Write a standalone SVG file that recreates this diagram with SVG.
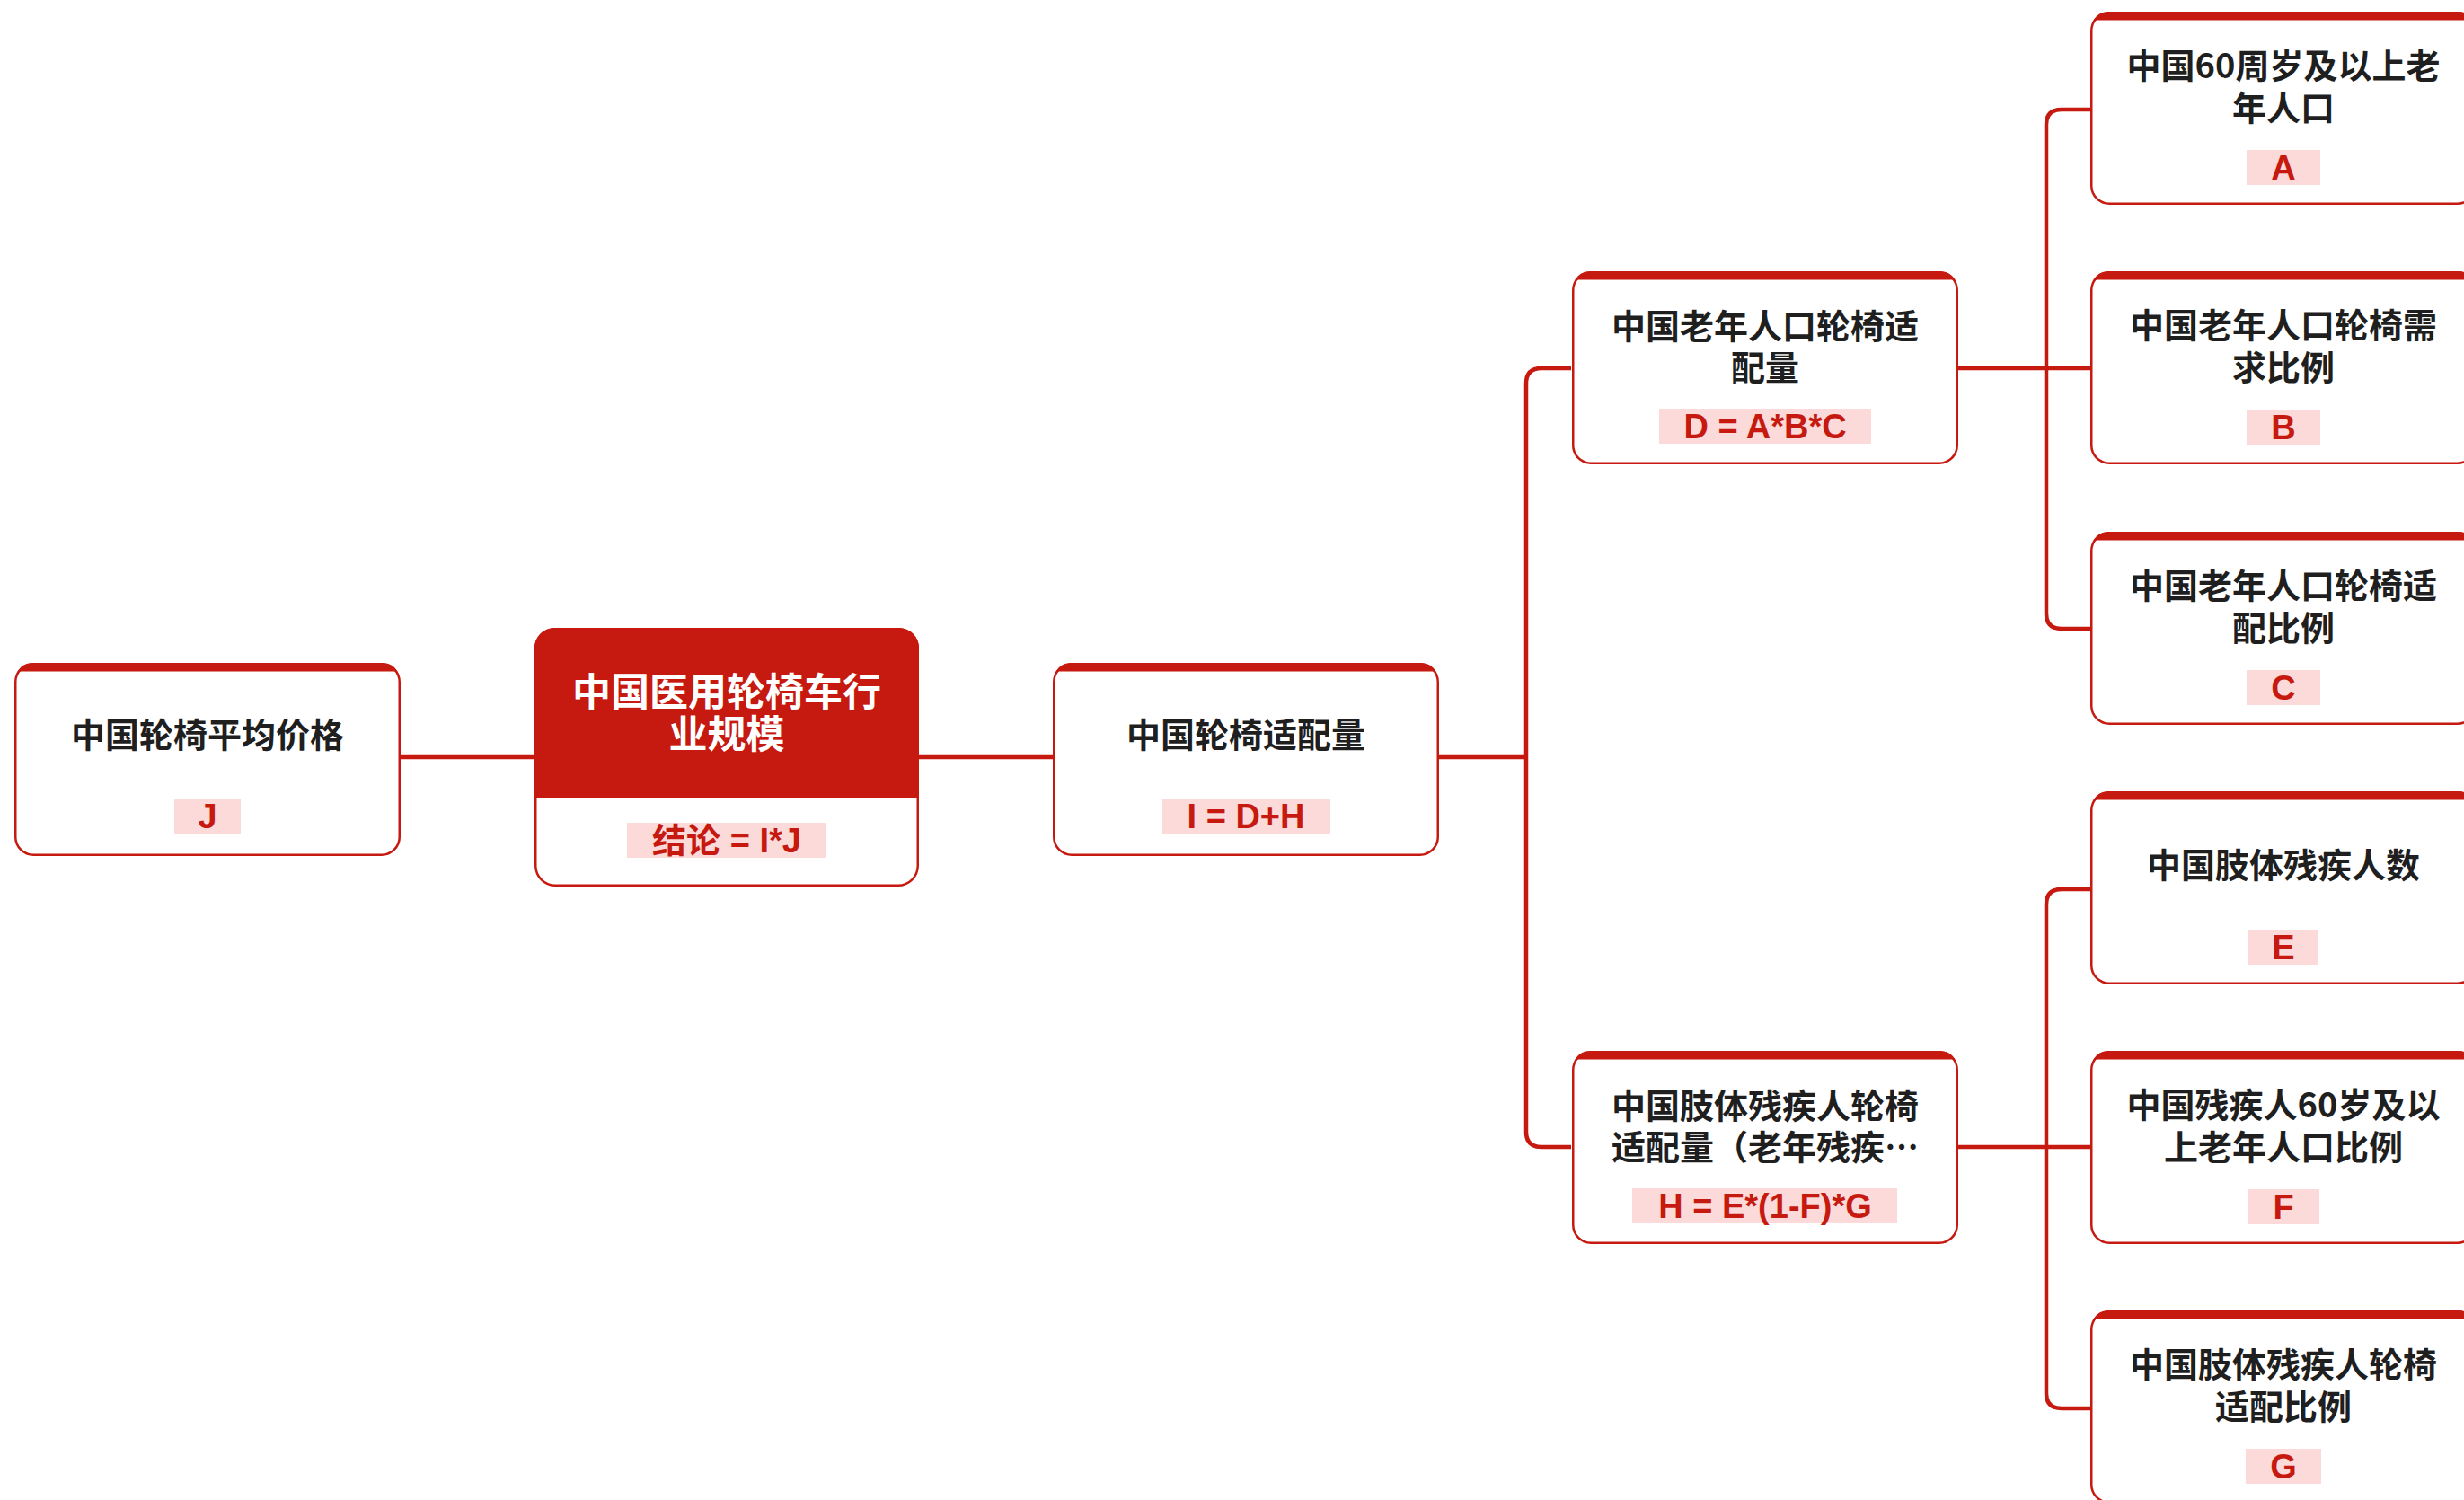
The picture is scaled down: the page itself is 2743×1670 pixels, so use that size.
<svg xmlns="http://www.w3.org/2000/svg" xmlns:xlink="http://www.w3.org/1999/xlink" width="2743" height="1670" viewBox="0 0 2743 1670">
<style>
.conn{fill:none;stroke:#C6190F;stroke-width:4.5}
.box{fill:#ffffff;stroke:#C6190F;stroke-width:2.5}
.band{fill:#C6190F}
.title{font-family:"Noto Sans CJK SC","Noto Sans",sans-serif;font-weight:bold;font-size:38px;fill:#1f1f1f;text-anchor:middle;dominant-baseline:central}
.rtitle{font-family:"Noto Sans CJK SC","Noto Sans",sans-serif;font-weight:bold;font-size:43px;fill:#ffffff;text-anchor:middle;dominant-baseline:central}
.pill{fill:#FCDADA}
.lbl{font-family:"Liberation Sans","Noto Sans CJK SC",sans-serif;font-weight:bold;font-size:38px;fill:#C6190F;text-anchor:middle;dominant-baseline:central}
</style>
<defs>
<g id="card">
<rect class="box" x="1.25" y="1.25" width="427.5" height="212.5" rx="20" ry="20"/>
<path class="band" d="M3.3 9.5 A20 20 0 0 1 20 0 H410 A20 20 0 0 1 426.7 9.5 Z"/>
</g>
</defs>
<rect width="2743" height="1670" fill="#ffffff"/>
<g id="connectors">
<path class="conn" d="M446 843 H595"/>
<path class="conn" d="M1023 843 H1172"/>
<path class="conn" d="M1602 843 H1699"/>
<path class="conn" d="M1749 410 H1716 Q1699 410 1699 427 V1260 Q1699 1277 1716 1277 H1749"/>
<path class="conn" d="M2180 410 H2327"/>
<path class="conn" d="M2327 122 H2295 Q2278 122 2278 139 V683 Q2278 700 2295 700 H2327"/>
<path class="conn" d="M2180 1277 H2327"/>
<path class="conn" d="M2327 990 H2295 Q2278 990 2278 1007 V1551 Q2278 1568 2295 1568 H2327"/>
</g>
<g id="node-J" transform="translate(16,738)">
<use xlink:href="#card"/>
<text class="title" x="215" y="77">中国轮椅平均价格</text>
<rect class="pill" x="178" y="151" width="74" height="39"/>
<text class="lbl" x="215" y="171">J</text>
</g>
<g id="node-root" transform="translate(595,699)">
<path class="band" d="M0 189 V22 A22 22 0 0 1 22 0 H406 A22 22 0 0 1 428 22 V189 Z"/>
<rect x="1.25" y="1.25" width="425.5" height="285.5" rx="22" ry="22" fill="none" stroke="#C6190F" stroke-width="2.5"/>
<text class="rtitle" x="214" y="68">中国医用轮椅车行</text>
<text class="rtitle" x="214" y="115">业规模</text>
<rect class="pill" x="103" y="217" width="222" height="39"/>
<text class="lbl" x="214" y="237">结论 = I*J</text>
</g>
<g id="node-I" transform="translate(1172,738)">
<use xlink:href="#card"/>
<text class="title" x="215" y="77">中国轮椅适配量</text>
<rect class="pill" x="122" y="151" width="187" height="39"/>
<text class="lbl" x="215" y="171">I = D+H</text>
</g>
<g id="node-D" transform="translate(1750,302)">
<use xlink:href="#card"/>
<text class="title" x="215" y="58">中国老年人口轮椅适</text>
<text class="title" x="215" y="104">配量</text>
<rect class="pill" x="97" y="153" width="236" height="39"/>
<text class="lbl" x="215" y="173">D = A*B*C</text>
</g>
<g id="node-H" transform="translate(1750,1170)">
<use xlink:href="#card"/>
<text class="title" x="215" y="58">中国肢体残疾人轮椅</text>
<text class="title" x="215" y="104">适配量（老年残疾…</text>
<rect class="pill" x="67" y="153" width="295" height="39"/>
<text class="lbl" x="215" y="173">H = E*(1-F)*G</text>
</g>
<g id="node-A" transform="translate(2327,13)">
<use xlink:href="#card"/>
<text class="title" x="215" y="57">中国60周岁及以上老</text>
<text class="title" x="215" y="104">年人口</text>
<rect class="pill" x="174" y="154" width="82" height="39"/>
<text class="lbl" x="215" y="174">A</text>
</g>
<g id="node-B" transform="translate(2327,302)">
<use xlink:href="#card"/>
<text class="title" x="215" y="57">中国老年人口轮椅需</text>
<text class="title" x="215" y="104">求比例</text>
<rect class="pill" x="174" y="154" width="82" height="39"/>
<text class="lbl" x="215" y="174">B</text>
</g>
<g id="node-C" transform="translate(2327,592)">
<use xlink:href="#card"/>
<text class="title" x="215" y="57">中国老年人口轮椅适</text>
<text class="title" x="215" y="104">配比例</text>
<rect class="pill" x="174" y="154" width="82" height="39"/>
<text class="lbl" x="215" y="174">C</text>
</g>
<g id="node-E" transform="translate(2327,881)">
<use xlink:href="#card"/>
<text class="title" x="215" y="79">中国肢体残疾人数</text>
<rect class="pill" x="176" y="154" width="78" height="39"/>
<text class="lbl" x="215" y="174">E</text>
</g>
<g id="node-F" transform="translate(2327,1170)">
<use xlink:href="#card"/>
<text class="title" x="215" y="57">中国残疾人60岁及以</text>
<text class="title" x="215" y="104">上老年人口比例</text>
<rect class="pill" x="175" y="154" width="80" height="39"/>
<text class="lbl" x="215" y="174">F</text>
</g>
<g id="node-G" transform="translate(2327,1459)">
<use xlink:href="#card"/>
<text class="title" x="215" y="57">中国肢体残疾人轮椅</text>
<text class="title" x="215" y="104">适配比例</text>
<rect class="pill" x="173" y="154" width="84" height="39"/>
<text class="lbl" x="215" y="174">G</text>
</g>
</svg>
